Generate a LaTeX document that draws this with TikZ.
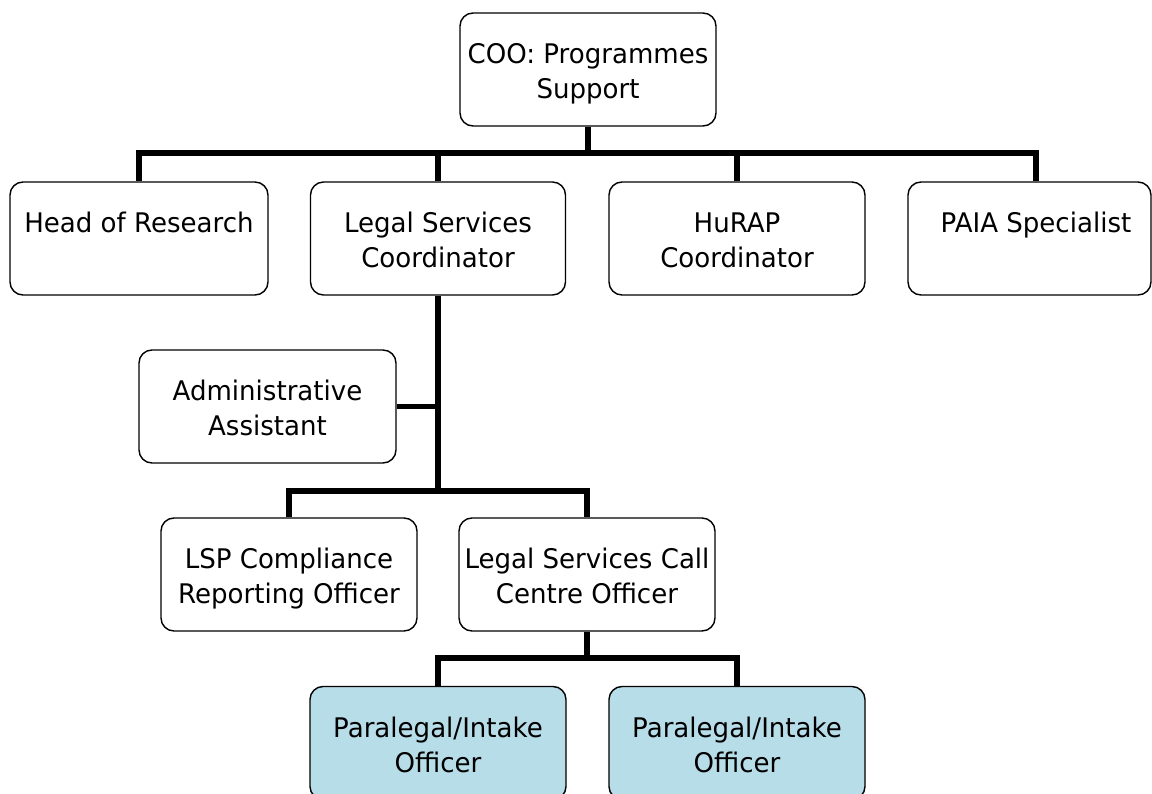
\documentclass[tikz,border=0pt]{standalone}
\usepackage{fontspec}
\usetikzlibrary{backgrounds}
\newfontfamily\boxfont{DejaVu Sans}[FakeStretch=0.965]
\newcommand\lnst{\rule[-5.5pt]{0pt}{34.5pt}}
\definecolor{paraBlue}{HTML}{B7DDE8}
\begin{document}
\begin{tikzpicture}[x=1pt,y=-1pt,
  box/.style={draw=black, line width=1.4pt, rounded corners=13pt,
    minimum width=256pt, minimum height=113pt, align=center, inner sep=0pt,
    font=\boxfont\fontsize{27}{35}\selectfont, fill=white},
  parabox/.style={box, fill=paraBlue},
  conn/.style={draw=black, line width=5.5pt, line join=miter}]
\useasboundingbox (0,0) rectangle (1152,794);

\node[box] (coo) at (588,69.5) {COO: Programmes\lnst\\Support\lnst};
\node[box, minimum width=258pt] (hr) at (139,238.5) {Head of Research\lnst\\\lnst};
\node[box, minimum width=255pt] (lsc) at (438,238.5) {Legal Services\lnst\\Coordinator\lnst};
\node[box] (hurap) at (737,238.5) {HuRAP\lnst\\Coordinator\lnst};
\node[box, minimum width=243pt] (paia) at (1029.5,238.5) {\hspace*{13pt}PAIA Specialist\lnst\\\lnst};
\node[box, minimum width=257pt] (admin) at (267.5,406.5) {Administrative\lnst\\Assistant\lnst};
\node[box] (lsp) at (289,574.5) {LSP Compliance\lnst\\Reporting Officer\lnst};
\node[box] (lcc) at (587,574.5) {Legal Services Call\lnst\\Centre Officer\lnst};
\node[parabox] (pl1) at (438,743) {Paralegal/Intake\lnst\\Officer\lnst};
\node[parabox] (pl2) at (737,743) {Paralegal/Intake\lnst\\Officer\lnst};

\coordinate (busA) at (0,153);
\coordinate (busB) at (0,491);
\coordinate (busC) at (0,658);

\begin{scope}[on background layer]
  \fill[white] (0,0) rectangle (1152,794);
  \draw[conn] (coo.south) -- (coo.south |- busA) -| (hr.north);
  \draw[conn] (coo.south) -- (coo.south |- busA) -| (lsc.north);
  \draw[conn] (coo.south) -- (coo.south |- busA) -| (hurap.north);
  \draw[conn] (coo.south) -- (coo.south |- busA) -| ([xshift=6.5pt]paia.north);
  \draw[conn] (lsc.south) -- (lsc.south |- busB) -| (lsp.north);
  \draw[conn] (lsc.south) -- (lsc.south |- busB) -| (lcc.north);
  \draw[conn] (admin.east) -- (admin.east -| lsc.south);
  \draw[conn] (lcc.south) -- (lcc.south |- busC) -| (pl1.north);
  \draw[conn] (lcc.south) -- (lcc.south |- busC) -| (pl2.north);
\end{scope}
\end{tikzpicture}
\end{document}
